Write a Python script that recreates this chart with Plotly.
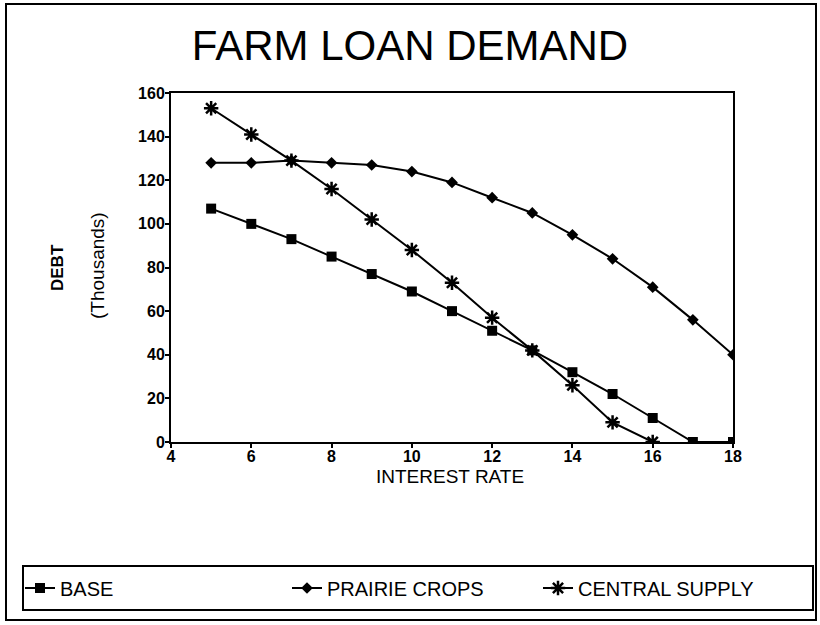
import plotly.graph_objects as go

# Interest rate (%) on the horizontal axis
rate = [5, 6, 7, 8, 9, 10, 11, 12, 13, 14, 15, 16, 17, 18]
rate_central = [5, 6, 7, 8, 9, 10, 11, 12, 13, 14, 15, 16]

# Debt demanded (thousands)
base = [107, 100, 93, 85, 77, 69, 60, 51, 42, 32, 22, 11, 0, 0]
prairie_crops = [128, 128, 129, 128, 127, 124, 119, 112, 105, 95, 84, 71, 56, 40]
central_supply = [153, 141, 129, 116, 102, 88, 73, 57, 42, 26, 9, 0]

x_ticks = [4, 6, 8, 10, 12, 14, 16, 18]
y_ticks = [0, 20, 40, 60, 80, 100, 120, 140, 160]

W, H = 820, 625
L, R, T, B = 171, 87, 93, 183
PW, PH = W - L - R, H - T - B


def px_x(p):
    return (p - L) / PW


def px_y(p):
    return (H - B - p) / PH


SANS = "Liberation Sans, Arial, sans-serif"

fig = go.Figure()
line_style = dict(color="black", width=2)
fig.add_trace(go.Scatter(
    x=rate, y=base, name="BASE", mode="lines+markers", legend="legend",
    line=line_style, marker=dict(symbol="square", size=10, color="black")))
fig.add_trace(go.Scatter(
    x=rate, y=prairie_crops, name="PRAIRIE CROPS", mode="lines+markers",
    legend="legend2",
    line=line_style, marker=dict(symbol="diamond", size=9, color="black")))
fig.add_trace(go.Scatter(
    x=rate_central, y=central_supply, name="CENTRAL SUPPLY", mode="lines+markers",
    legend="legend3", line=line_style,
    marker=dict(symbol="asterisk-open", size=12, color="black",
                line=dict(color="black", width=2.5))))

axis_common = dict(
    showline=True, linecolor="black", linewidth=2, mirror=True,
    ticks="outside", ticklen=4, tickwidth=1.5, tickcolor="black",
    showgrid=False, zeroline=False, automargin=False,
    tickfont=dict(family=SANS, size=16, color="black", weight="bold"),
)

fig.update_xaxes(range=[4, 18], tickvals=x_ticks, ticklabelstandoff=-5,
                 **axis_common)
fig.update_yaxes(range=[0, 160], tickvals=y_ticks, ticklabelstandoff=-3,
                 **axis_common)

fig.add_annotation(text="INTEREST RATE", x=px_x(450), y=px_y(476),
                   xref="paper", yref="paper", xanchor="center", yanchor="middle",
                   showarrow=False,
                   font=dict(family=SANS, size=19, color="black"))
fig.add_annotation(text="<b>DEBT</b>", textangle=-90, x=px_x(57), y=px_y(267),
                   xref="paper", yref="paper", xanchor="center", yanchor="middle",
                   showarrow=False,
                   font=dict(family=SANS, size=17, color="black"))
fig.add_annotation(text="(Thousands)", textangle=-90, x=px_x(97), y=px_y(266),
                   xref="paper", yref="paper", xanchor="center", yanchor="middle",
                   showarrow=False,
                   font=dict(family=SANS, size=19, color="black"))

# outer frame and legend frame
fig.add_shape(type="rect", xref="paper", yref="paper",
              x0=px_x(6), x1=px_x(816), y0=px_y(620), y1=px_y(4),
              line=dict(color="black", width=2))
fig.add_shape(type="rect", xref="paper", yref="paper",
              x0=px_x(23), x1=px_x(813), y0=px_y(610), y1=px_y(566),
              line=dict(color="black", width=2))

legend_common = dict(orientation="h", xref="container", yref="container",
                     xanchor="left", yanchor="middle", y=1 - 588 / H,
                     font=dict(family=SANS, size=20, color="black"),
                     bgcolor="rgba(0,0,0,0)", borderwidth=0)

fig.update_layout(
    width=W, height=H,
    margin=dict(l=L, r=R, t=T, b=B, autoexpand=False),
    paper_bgcolor="white", plot_bgcolor="white",
    title=dict(text="FARM LOAN DEMAND", xref="container", x=410 / W,
               xanchor="center",
               yref="container", y=1 - 45 / H, yanchor="middle",
               font=dict(family=SANS, size=42, color="black")),
    showlegend=True,
    legend=dict(x=20 / W, **legend_common),
    legend2=dict(x=287 / W, **legend_common),
    legend3=dict(x=538 / W, **legend_common),
)

fig.write_html("out.html")
